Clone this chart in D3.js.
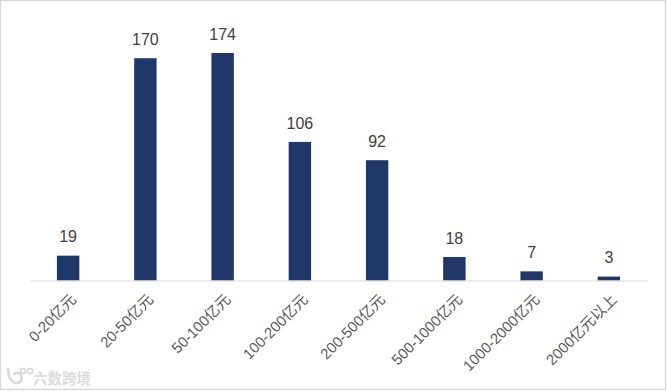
<!DOCTYPE html>
<html>
<head>
<meta charset="utf-8">
<script src="https://cdn.jsdelivr.net/npm/d3@7"></script>
<style>
  html, body { margin: 0; padding: 0; background: #fff; }
  svg { display: block; }
</style>
</head>
<body>
<div id="chart"></div>
<script>
var categories = ["0-20亿元", "20-50亿元", "50-100亿元", "100-200亿元", "200-500亿元", "500-1000亿元", "1000-2000亿元", "2000亿元以上"];
var values = [19, 170, 174, 106, 92, 18, 7, 3];
var watermark = "六数跨境";

var width = 667;
var height = 391;
var font = "'Liberation Sans', 'Noto Sans CJK SC', sans-serif";

var svg = d3.select("#chart")
  .append("svg")
    .attr("width", width)
    .attr("height", height);

// outer frame
svg.append("rect")
  .attr("x", 0.5)
  .attr("y", 0.5)
  .attr("width", width - 2)
  .attr("height", height - 2)
  .attr("fill", "#fff")
  .attr("stroke", "#d9d9d9")
  .attr("stroke-width", 1.5);

var x = d3.scaleBand()
  .domain(categories)
  .range([29.5, 647.5])
  .paddingInner(0.71)
  .paddingOuter(0.355);

var y = d3.scaleLinear()
  .domain([0, 174])
  .range([280.5, 53]);

svg.selectAll("rect.bar")
  .data(values)
  .enter().append("rect")
    .attr("class", "bar")
    .attr("x", function(d, i) { return x(categories[i]); })
    .attr("y", function(d) { return y(d); })
    .attr("width", x.bandwidth())
    .attr("height", function(d) { return y(0) - y(d); })
    .attr("fill", "#1f3869");

// data labels
svg.selectAll("text.value")
  .data(values)
  .enter().append("text")
    .attr("class", "value")
    .attr("x", function(d, i) { return x(categories[i]) + x.bandwidth() / 2; })
    .attr("y", function(d) { return y(d) - 13.4; })
    .attr("text-anchor", "middle")
    .attr("font-family", font)
    .attr("font-size", 16)
    .attr("fill", "#404040")
    .text(function(d) { return d; });

// x axis
var axis = svg.append("g")
  .attr("transform", "translate(0,280.5)")
  .call(d3.axisBottom(x).tickSize(0).tickPadding(0));

axis.select(".domain")
  .attr("stroke", "#d9d9d9")
  .attr("stroke-width", 1);

axis.selectAll("text")
  .attr("font-family", font)
  .attr("font-size", 14.9)
  .attr("fill", "#595959")
  .attr("text-anchor", "end")
  .attr("dy", 0)
  .attr("y", 0)
  .attr("transform", "translate(9,20) rotate(-45)");

// watermark
var mark = svg.append("g")
  .attr("transform", "translate(7,378)")
  .attr("fill", "none")
  .attr("stroke", "#d8d8d8")
  .attr("stroke-width", 2.5);
mark.append("path").attr("d", "M1,-10 C1,-2 3,3 8,5 C13,6 16,2 14,-3 C12,-6 8,-6 7,-3");
mark.append("circle").attr("cx", 16).attr("cy", -7).attr("r", 2.5).attr("stroke-width", 1.5);
mark.append("circle").attr("cx", 23).attr("cy", -7).attr("r", 2.5).attr("stroke-width", 1.5);

svg.append("text")
  .attr("x", 33)
  .attr("y", 384)
  .attr("font-family", font)
  .attr("font-size", 14.5)
  .attr("font-weight", "bold")
  .attr("fill", "#dcdcdc")
  .text(watermark);
</script>
</body>
</html>
